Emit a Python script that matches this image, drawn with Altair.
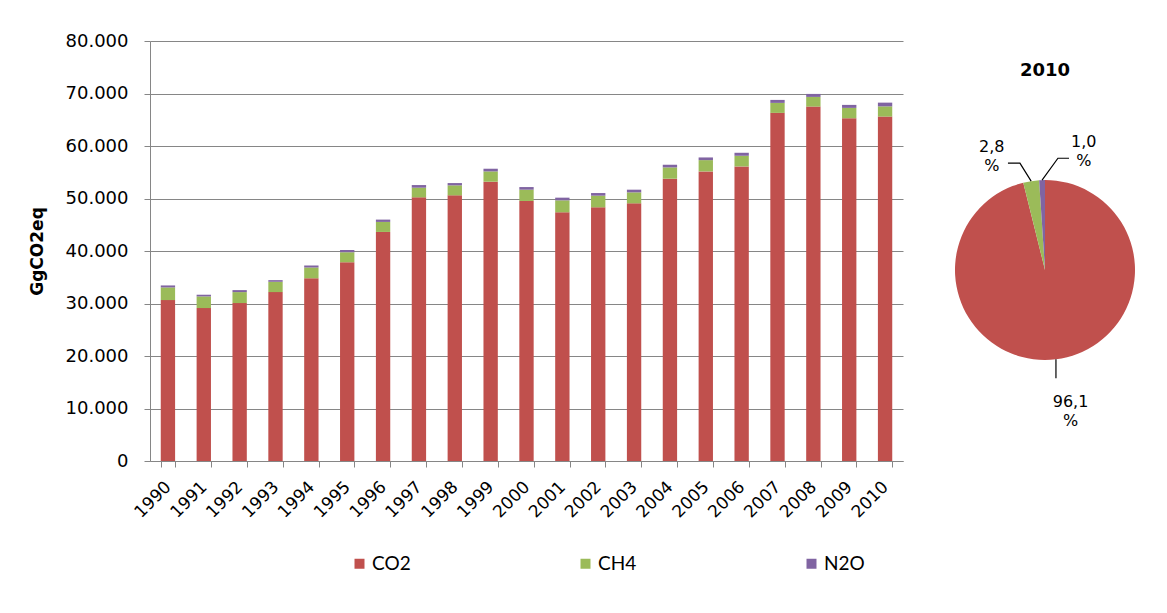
import altair as alt
import numpy as np
import pandas as pd

# ---------------- data ----------------
years = [str(y) for y in range(1990, 2011)]
co2 = [30650, 29130, 30080, 32170, 34830, 37870, 43630, 50220, 50600, 53200,
       49530, 47370, 48320, 49080, 53770, 55160, 56110, 66310, 67510, 65290, 65610]
ch4 = [2410, 2220, 2090, 1970, 2030, 1900, 1910, 1840, 1900, 1960,
       2150, 2280, 2220, 2090, 2150, 2150, 2030, 1900, 1840, 1970, 1940]
n2o = [380, 320, 380, 310, 380, 440, 440, 500, 440, 510,
       500, 510, 500, 510, 510, 510, 570, 570, 570, 570, 710]
gases = ["CO2", "CH4", "N2O"]
colors = ["#C0504D", "#9BBB59", "#8064A2"]
y_ticks = [0, 10000, 20000, 30000, 40000, 50000, 60000, 70000, 80000]
pie_year = "2010"

series = {"CO2": co2, "CH4": ch4, "N2O": n2o}
rows = []
for i, yr in enumerate(years):
    for k, g in enumerate(gases):
        rows.append({"year": yr, "gas": g, "idx": k, "value": series[g][i]})
df = pd.DataFrame(rows)

# ---------------- styling constants ----------------
FONT = "DejaVu Sans"
GRID = "#868686"
PIE_R_PX = 90            # pie radius in pixels
PIE_W, PIE_H = 200, 458  # pie panel size
LABEL_R = 1.49           # label distance (in pie radii)
LABEL_SPREAD = {"CO2": -4, "CH4": -14.5, "N2O": 18.7}   # degrees
ELBOW = {"CH4": (-13.2, 1.22, -0.133), "N2O": (6.6, 1.25, 0.123)}  # angle, r, tail

color = alt.Color(
    "gas:N",
    scale=alt.Scale(domain=gases, range=colors),
    legend=alt.Legend(
        title=None, orient="none", legendX=200, legendY=513,
        direction="horizontal", columns=3, columnPadding=165,
        symbolType="square", symbolSize=100, symbolStrokeWidth=0,
        labelFont="Lato", labelFontSize=19, labelColor="#000000",
        labelOffset=3, padding=0,
    ),
)

bars = alt.Chart(df).mark_bar().encode(
    x=alt.X(
        "year:O",
        sort=years,
        scale=alt.Scale(paddingInner=0.6, paddingOuter=0.3),
        axis=alt.Axis(
            title=None, labelAngle=-45, labelAlign="right", labelBaseline="middle",
            tickBand="extent", tickSize=6, tickColor=GRID, domainColor=GRID,
            labelFont=FONT, labelFontSize=17, labelColor="#000000", labelPadding=17,
            grid=False,
        ),
    ),
    y=alt.Y(
        "value:Q",
        stack="zero",
        scale=alt.Scale(domain=[0, 80000], nice=False),
        axis=alt.Axis(
            values=y_ticks, title="GgCO2eq",
            labelExpr="replace(format(datum.value, ',d'), ',', '.')",
            labelFont=FONT, labelFontSize=18, labelColor="#000000", labelPadding=16,
            tickSize=6, tickColor=GRID, domainColor=GRID, gridColor=GRID, gridWidth=1,
            titleFont=FONT, titleFontSize=17, titleFontWeight="bold", titleColor="#000000",
            titlePadding=19,
        ),
    ),
    color=color,
    order=alt.Order("idx:Q", sort="ascending"),
).properties(width=753, height=420)

# ---------------- pie (2010) ----------------
pie_df = df[df["year"] == pie_year].sort_values("idx").reset_index(drop=True)
total = pie_df["value"].sum()
pie_df["share"] = pie_df["value"] / total
cum = pie_df["share"].cumsum()
pie_df["mid_deg"] = (cum - pie_df["share"] / 2) * 360.0
pie_df["mid_deg"] = np.where(pie_df["mid_deg"] > 180, pie_df["mid_deg"] - 360, pie_df["mid_deg"])
pie_df["label"] = [
    f"{s * 100:.1f}".replace(".", ",") + "\n%" for s in pie_df["share"]
]
lab_ang = np.radians(pie_df["mid_deg"] + pie_df["gas"].map(LABEL_SPREAD))
pie_df["lx"] = LABEL_R * np.sin(lab_ang)
pie_df["ly"] = LABEL_R * np.cos(lab_ang)

# leader lines
lead_rows = []
for _, r in pie_df.iterrows():
    a = np.radians(r["mid_deg"])
    p0 = (np.sin(a), np.cos(a))
    lead_rows.append({"gas": r["gas"], "i": 0, "x": p0[0], "y": p0[1]})
    if r["gas"] in ELBOW:
        ea, er, tail = ELBOW[r["gas"]]
        ea = np.radians(ea)
        p1 = (er * np.sin(ea), er * np.cos(ea))
        lead_rows.append({"gas": r["gas"], "i": 1, "x": p1[0], "y": p1[1]})
        lead_rows.append({"gas": r["gas"], "i": 2, "x": p1[0] + tail, "y": p1[1]})
    else:
        lead_rows.append({"gas": r["gas"], "i": 1, "x": p0[0], "y": p0[1] - 0.21})
lead_df = pd.DataFrame(lead_rows)

xdom = [-PIE_W / 2 / PIE_R_PX, PIE_W / 2 / PIE_R_PX]
ydom = [-PIE_H / 2 / PIE_R_PX, PIE_H / 2 / PIE_R_PX]
xs = alt.Scale(domain=xdom, nice=False, zero=False)
ys = alt.Scale(domain=ydom, nice=False, zero=False)

pie_base = alt.Chart(pie_df)
arcs = pie_base.mark_arc(radius=PIE_R_PX, strokeWidth=0).encode(
    theta=alt.Theta("value:Q", stack=True),
    color=color,
    order=alt.Order("idx:Q", sort="ascending"),
)
leaders = alt.Chart(lead_df).mark_line(color="#000000", strokeWidth=1.2).encode(
    x=alt.X("x:Q", scale=xs, axis=None),
    y=alt.Y("y:Q", scale=ys, axis=None),
    detail="gas:N",
    order="i:Q",
)
labels = pie_base.mark_text(
    font=FONT, fontSize=16, color="#000000", lineBreak="\n",
    align="center", baseline="middle", lineHeight=19,
).encode(
    x=alt.X("lx:Q", scale=xs, axis=None),
    y=alt.Y("ly:Q", scale=ys, axis=None),
    text="label:N",
)
pie = alt.layer(arcs, leaders, labels).properties(
    width=PIE_W, height=PIE_H,
    title=alt.TitleParams(
        text=pie_year, font=FONT, fontSize=18, fontWeight="bold", color="#000000",
        dy=43,
    ),
)

chart = alt.hconcat(bars, pie, spacing=42).properties(
    padding={"left": 20, "top": 24, "right": 5, "bottom": 5},
    background="#ffffff",
).configure_view(strokeWidth=0, stroke="transparent")

chart.save("out.html", embed_options={"renderer": "svg", "actions": False})
